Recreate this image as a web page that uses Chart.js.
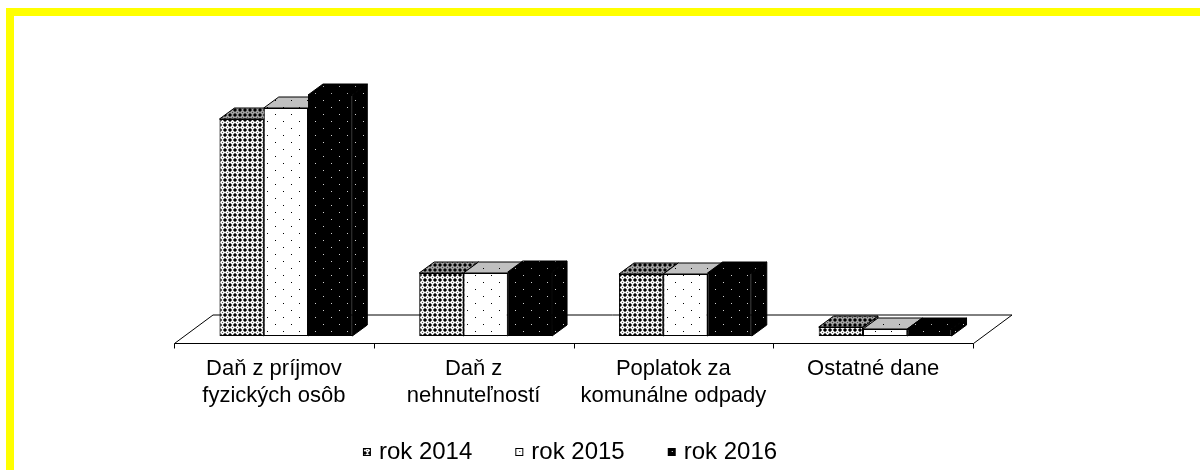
<!DOCTYPE html>
<html lang="sk">
<head>
<meta charset="utf-8">
<title>Daňové príjmy</title>
<script src="https://cdn.jsdelivr.net/npm/chart.js@4.4.1/dist/chart.umd.min.js"></script>
<style>
    html, body { margin: 0; padding: 0; width: 1200px; height: 470px; overflow: hidden; background: #fff; }
    #frame { position: absolute; left: 6px; top: 8px; width: 1400px; height: 700px; border: 8px solid #ffff00; }
    #wrap { position: absolute; left: 0; top: 0; width: 1200px; height: 470px; }
</style>
</head>
<body>
<div id="frame"></div>
<div id="wrap"><canvas id="taxChart" width="1200" height="470"></canvas></div>
<script>
// chart data
const categories = [
    ['Daň z príjmov', 'fyzických osôb'],
    ['Daň z', 'nehnuteľností'],
    ['Poplatok za', 'komunálne odpady'],
    'Ostatné dane'
];
const seriesLabels = ['rok 2014', 'rok 2015', 'rok 2016'];
const values2014 = [217, 63, 62, 9];
const values2015 = [228, 63, 62, 7];
const values2016 = [241, 64, 63, 7];
const valueMax = 300;

// 3D look
const DEPTH_X = 15;
const DEPTH_Y = -11;
const FLOOR_SHIFT_X = -12;
const FLOOR_FRONT_Y = 7.5;
const FLOOR_DEPTH_X = 38.5;
const FLOOR_DEPTH_Y = -28.5;
const FONT = "'Liberation Sans', Arial, sans-serif";

const canvas = document.getElementById('taxChart');
const mainCtx = canvas.getContext('2d');

function tileFromRows(rows, palette) {
    const c = document.createElement('canvas');
    c.width = rows[0].length;
    c.height = rows.length;
    const g = c.getContext('2d');
    rows.forEach((row, y) => {
        [...row].forEach((ch, x) => {
            g.fillStyle = palette[ch];
            g.fillRect(x, y, 1, 1);
        });
    });
    return c;
}

function dotTile(bg, dot) {
    const c = document.createElement('canvas');
    c.width = 16;
    c.height = 14;
    const g = c.getContext('2d');
    g.fillStyle = bg;
    g.fillRect(0, 0, 16, 14);
    g.fillStyle = dot;
    g.fillRect(3, 2, 1, 1);
    g.fillRect(11, 9, 1, 1);
    return c;
}

// small diamond lattice, roughly like the office "large confetti" hatch
const crossRows = ['kgwgk', 'gwwwg', 'wwgww', 'gwwwg', 'kgwgk'];
const patterns = {
    front2014: mainCtx.createPattern(tileFromRows(crossRows, { k: '#000', g: '#5c5c5c', w: '#f4f4f4' }), 'repeat'),
    top2014: mainCtx.createPattern(tileFromRows(crossRows, { k: '#000', g: '#4a4a4a', w: '#a0a0a0' }), 'repeat'),
    front2015: mainCtx.createPattern(dotTile('#fff', '#000'), 'repeat'),
    top2015: mainCtx.createPattern(dotTile('#c0c0c0', '#000'), 'repeat'),
    front2016: mainCtx.createPattern(dotTile('#000', '#d0d0d0'), 'repeat'),
    top2016: mainCtx.createPattern(dotTile('#000', '#b0b0b0'), 'repeat')
};

const faceFills = [
    { top: patterns.top2014, side: patterns.top2014 },
    { top: patterns.top2015, side: patterns.top2015 },
    { top: patterns.top2016, side: patterns.front2016 }
];

// legend marker: the 8px swatch sits near the right edge of a wider transparent image,
// so it ends up close to its text
const ICON_BOX = 35;
const ICON_IMG_W = 49;

function legendIcon(fill, dot) {
    const c = document.createElement('canvas');
    c.width = ICON_IMG_W;
    c.height = 8;
    const g = c.getContext('2d');
    const x0 = ICON_IMG_W - 11;
    g.fillStyle = fill;
    g.fillRect(x0, 0, 8, 8);
    if (dot) {
        g.fillStyle = dot;
        g.fillRect(x0 + 4, 3, 1, 1);
    }
    g.strokeStyle = '#000';
    g.lineWidth = 1;
    g.strokeRect(x0 + 0.5, 0.5, 7, 7);
    return c;
}

const legendIcons = [
    legendIcon(patterns.front2014),
    legendIcon('#fff', '#000'),
    legendIcon('#000', '#fff')
];

function drawFloor(ctx, area) {
    const fy = area.bottom + FLOOR_FRONT_Y;
    const fl = Math.round(area.left + FLOOR_SHIFT_X) + 0.5;
    const fr = Math.round(area.right + FLOOR_SHIFT_X) + 0.5;

    ctx.save();
    ctx.strokeStyle = '#000';
    ctx.lineWidth = 1;
    ctx.fillStyle = '#fff';
    ctx.beginPath();
    ctx.moveTo(fl, fy);
    ctx.lineTo(fl + FLOOR_DEPTH_X, fy + FLOOR_DEPTH_Y);
    ctx.lineTo(fr + FLOOR_DEPTH_X, fy + FLOOR_DEPTH_Y);
    ctx.lineTo(fr, fy);
    ctx.closePath();
    ctx.fill();
    ctx.stroke();

    // tick marks between categories
    const step = (area.right - area.left) / categories.length;
    for (let i = 0; i <= categories.length; i++) {
        const x = Math.round(area.left + FLOOR_SHIFT_X + i * step) + 0.5;
        ctx.beginPath();
        ctx.moveTo(x, fy);
        ctx.lineTo(x, fy + 5);
        ctx.stroke();
    }
    ctx.restore();
}

function drawExtrusion(ctx, bar, fills) {
    const p = bar.getProps(['x', 'y', 'base', 'width'], true);
    const left = p.x - p.width / 2;
    const right = p.x + p.width / 2;
    const top = Math.min(p.y, p.base);
    const bottom = Math.max(p.y, p.base);

    ctx.save();
    ctx.strokeStyle = '#000';
    ctx.lineWidth = 1;

    // right side
    ctx.fillStyle = fills.side;
    ctx.beginPath();
    ctx.moveTo(right, top);
    ctx.lineTo(right + DEPTH_X, top + DEPTH_Y);
    ctx.lineTo(right + DEPTH_X, bottom + DEPTH_Y);
    ctx.lineTo(right, bottom);
    ctx.closePath();
    ctx.fill();
    ctx.stroke();

    // top
    ctx.fillStyle = fills.top;
    ctx.beginPath();
    ctx.moveTo(left, top);
    ctx.lineTo(left + DEPTH_X, top + DEPTH_Y);
    ctx.lineTo(right + DEPTH_X, top + DEPTH_Y);
    ctx.lineTo(right, top);
    ctx.closePath();
    ctx.fill();
    ctx.stroke();
    ctx.restore();
}

const bar3dPlugin = {
    id: 'bar3d',
    beforeDatasetsDraw(chart) {
        const ctx = chart.ctx;
        drawFloor(ctx, chart.chartArea);
        chart.data.datasets.forEach((ds, i) => {
            const meta = chart.getDatasetMeta(i);
            meta.data.forEach(bar => drawExtrusion(ctx, bar, faceFills[i]));
        });
    }
};

new Chart(canvas, {
    type: 'bar',
    data: {
        labels: categories,
        datasets: [
            { label: seriesLabels[0], data: values2014, backgroundColor: patterns.front2014 },
            { label: seriesLabels[1], data: values2015, backgroundColor: patterns.front2015 },
            { label: seriesLabels[2], data: values2016, backgroundColor: patterns.front2016 }
        ]
    },
    options: {
        responsive: false,
        animation: false,
        events: [],
        layout: { padding: { left: 124, right: 215, top: 36, bottom: -4 } },
        datasets: {
            bar: {
                borderColor: '#000',
                borderWidth: 1,
                borderSkipped: false,
                barPercentage: 1,
                categoryPercentage: 0.665
            }
        },
        scales: {
            x: {
                grid: { display: false },
                border: { display: false },
                ticks: {
                    color: '#000',
                    font: { family: FONT, size: 22, lineHeight: 1.25 },
                    padding: 11,
                    labelOffset: FLOOR_SHIFT_X,
                    maxRotation: 0,
                    autoSkip: false
                },
                afterFit(scale) { scale.height = 92; }
            },
            y: {
                min: 0,
                max: valueMax,
                display: true,
                grid: { display: false },
                border: { display: false },
                ticks: { display: false },
                afterFit(scale) { scale.width = 62; }
            }
        },
        plugins: {
            tooltip: { enabled: false },
            legend: {
                position: 'bottom',
                labels: {
                    color: '#000',
                    font: { family: FONT, size: 24 },
                    usePointStyle: true,
                    pointStyleWidth: ICON_BOX,
                    boxHeight: 8,
                    padding: 12,
                    generateLabels: chart => chart.data.datasets.map((ds, i) => ({
                        text: ds.label,
                        pointStyle: legendIcons[i],
                        fillStyle: '#fff',
                        strokeStyle: '#000',
                        lineWidth: 0,
                        hidden: false,
                        datasetIndex: i
                    }))
                }
            }
        }
    },
    plugins: [bar3dPlugin]
});
</script>
</body>
</html>
